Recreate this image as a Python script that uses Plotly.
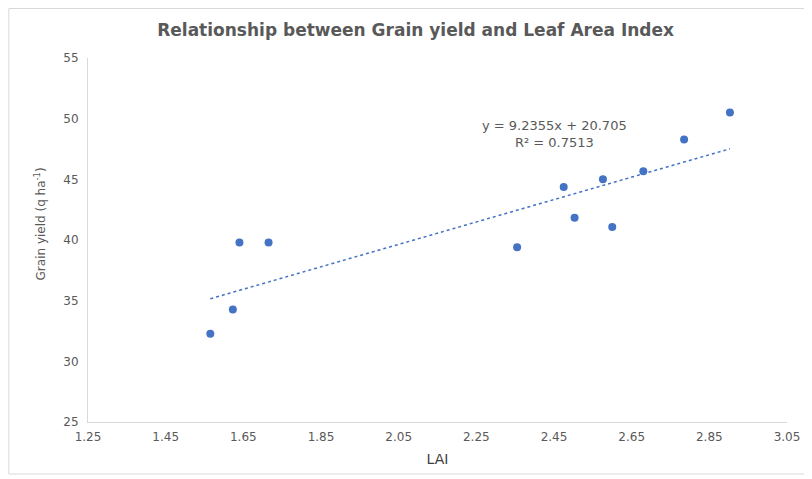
import plotly.graph_objects as go

# Data
lai = [1.565, 1.623, 1.640, 1.715, 2.355, 2.475, 2.503, 2.576, 2.600, 2.680, 2.785, 2.903]
grain_yield = [32.28, 34.28, 39.79, 39.79, 39.40, 44.37, 41.83, 45.01, 41.07, 45.67, 48.28, 50.51]

# Linear trend line as reported on the chart
slope = 9.2355
intercept = 20.705
r_squared = 0.7513

x_ticks = [1.25, 1.45, 1.65, 1.85, 2.05, 2.25, 2.45, 2.65, 2.85, 3.05]
y_ticks = [25, 30, 35, 40, 45, 50, 55]

trend_x = [min(lai), max(lai)]
trend_y = [slope * v + intercept for v in trend_x]

FONT = "DejaVu Sans"
GREY = "#595959"
BLUE = "#4472C4"

# The page body has an 8px margin, so the figure is sized to fill the rest of the window
W, H = 804, 471
L, R, T, B = 80, 22, 50, 57
PW, PH = W - L - R, H - T - B


def px_x(x):  # window x pixel -> paper fraction
    return (x - 8 - L) / PW


def px_y(y):  # window y pixel -> paper fraction
    return (H - B - (y - 8)) / PH


fig = go.Figure()
fig.add_trace(go.Scatter(
    x=trend_x, y=trend_y, mode="lines",
    line=dict(color=BLUE, width=1.5, dash="dot"),
    hoverinfo="skip", showlegend=False,
))
fig.add_trace(go.Scatter(
    x=lai, y=grain_yield, mode="markers",
    marker=dict(color=BLUE, size=8),
    showlegend=False,
))

fig.update_layout(
    width=W, height=H,
    margin=dict(l=L, r=R, t=T, b=B),
    paper_bgcolor="white", plot_bgcolor="white",
    font=dict(family=FONT, color=GREY, size=13),
    title=dict(
        text="<b>Relationship between Grain yield and Leaf Area Index</b>",
        x=px_x(417), xref="paper", xanchor="center",
        y=1 - (30 - 8) / H, yref="container", yanchor="middle",
        font=dict(family=FONT, size=17, color=GREY),
    ),
    xaxis=dict(
        range=[1.25, 3.05], tickvals=x_ticks, ticktext=[f"{v:.2f}" for v in x_ticks],
        showgrid=False, zeroline=False, showline=True, linecolor="#d9d9d9", linewidth=1,
        ticks="", tickfont=dict(size=12, color=GREY), ticklabelstandoff=4,
        title=dict(text="LAI", font=dict(size=14, color="#404040"), standoff=10),
    ),
    yaxis=dict(
        range=[25, 55], tickvals=y_ticks,
        showgrid=False, zeroline=False, showline=True, linecolor="#d9d9d9", linewidth=1,
        ticks="", tickfont=dict(size=12, color=GREY), ticklabelstandoff=6,
    ),
    shapes=[dict(
        type="rect", xref="paper", yref="paper",
        x0=px_x(8.5), x1=px_x(820),
        y0=px_y(474), y1=px_y(8.5),
        line=dict(color="#d9d9d9", width=1), fillcolor="rgba(0,0,0,0)", layer="below",
    )],
    annotations=[
        dict(
            text=f"y = {slope}x + {intercept}<br>R² = {r_squared}",
            x=2.45, y=48.7, xref="x", yref="y", showarrow=False,
            xanchor="center", yanchor="middle", align="center",
            font=dict(family=FONT, size=13, color=GREY),
        ),
        dict(
            text="Grain yield (q ha<sup>-1</sup>)",
            x=px_x(40), y=41.3, xref="paper", yref="y", showarrow=False,
            textangle=-90, xanchor="center", yanchor="middle",
            font=dict(family=FONT, size=12, color=GREY),
        ),
    ],
)

fig.write_html("out.html")
